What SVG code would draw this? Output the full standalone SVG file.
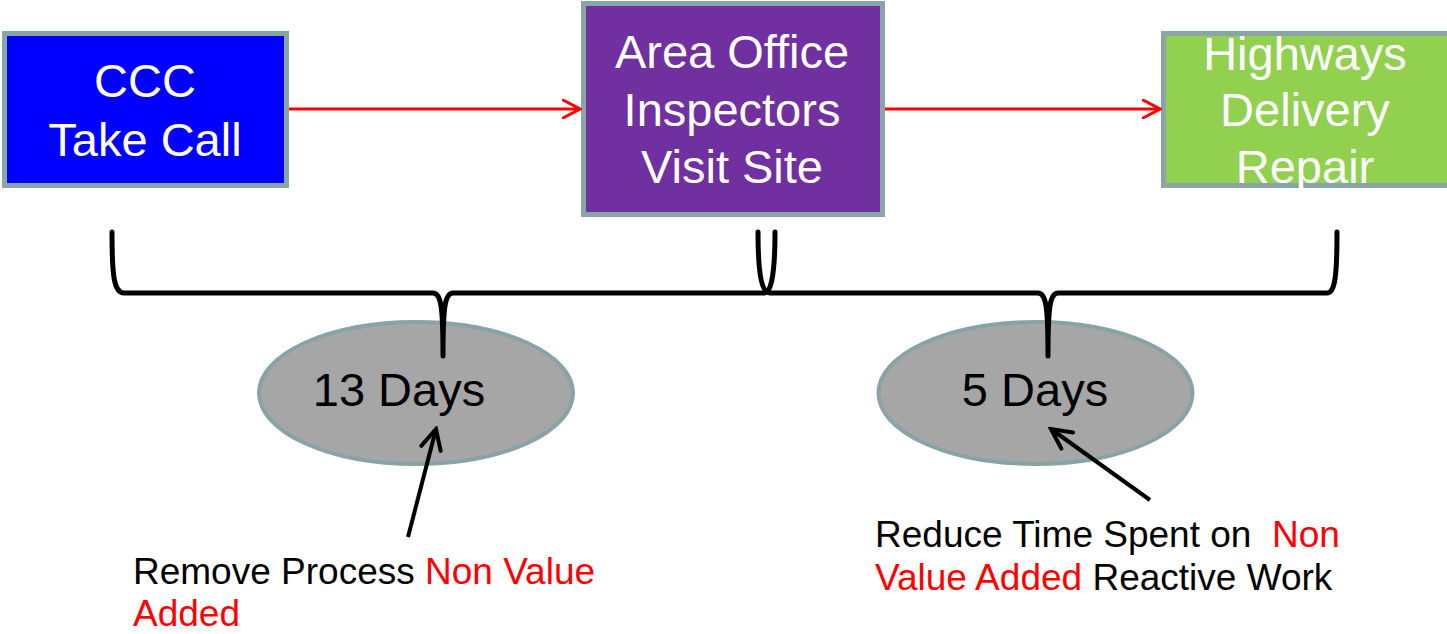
<svg xmlns="http://www.w3.org/2000/svg" width="1447" height="634" viewBox="0 0 1447 634">
<style>
.box{stroke:#8aa5a6;stroke-width:5}
.bt{font-family:"Liberation Sans",Arial,sans-serif;font-size:47px;fill:#fff;text-anchor:middle}
.ell{fill:#a6a6a6;stroke:#87a3a5;stroke-width:4}
.et{font-family:"Liberation Sans",Arial,sans-serif;font-size:47px;fill:#000;text-anchor:middle}
.note{font-family:"Liberation Sans",Arial,sans-serif;font-size:37px;fill:#000;white-space:pre}
.red{fill:#ff0000}
.brace{fill:none;stroke:#000;stroke-width:5;stroke-linecap:round;stroke-linejoin:round}
.rl{stroke:#ff0000;stroke-width:3;fill:none}
.bl{stroke:#000;stroke-width:4;fill:none}
</style>
<defs>
<marker id="rh" viewBox="0 0 20 20" refX="18" refY="10" markerWidth="20" markerHeight="20" markerUnits="userSpaceOnUse" orient="auto">
<path d="M1,1 L18,10 L1,19" fill="none" stroke="#ff0000" stroke-width="3" stroke-linecap="round"/>
</marker>
<marker id="bh" viewBox="0 0 26 26" refX="23" refY="13" markerWidth="26" markerHeight="26" markerUnits="userSpaceOnUse" orient="auto">
<path d="M3,3 L23,13 L3,23" fill="none" stroke="#000" stroke-width="4" stroke-linecap="round"/>
</marker>
</defs>
<rect width="1447" height="634" fill="#fff"/>
<g id="ccc">
<rect class="box" x="4.5" y="33.5" width="282" height="152" fill="#0000ff"/>
<text class="bt" x="145" y="97">CCC</text>
<text class="bt" x="145" y="156">Take Call</text>
</g>
<g id="area">
<rect class="box" x="583.5" y="3.5" width="299" height="211" fill="#7030a0"/>
<text class="bt" x="732" y="68">Area Office</text>
<text class="bt" x="732" y="126">Inspectors</text>
<text class="bt" x="732" y="183">Visit Site</text>
</g>
<g id="highways">
<rect class="box" x="1163.5" y="33.5" width="300" height="152" fill="#92d050"/>
<text class="bt" x="1305" y="70">Highways</text>
<text class="bt" x="1305" y="126">Delivery</text>
<text class="bt" x="1305" y="183">Repair</text>
</g>
<g id="days13">
<ellipse class="ell" cx="416" cy="393" rx="157" ry="71"/>
<text class="et" x="399" y="406">13 Days</text>
</g>
<g id="days5">
<ellipse class="ell" cx="1035.5" cy="393" rx="157" ry="71"/>
<text class="et" x="1035" y="406">5 Days</text>
</g>
<g id="braces">
<path class="brace" d="M112,232 C112,276 114,293 124,293 L433,293 C441,293 443,306 443,356 C443,306 445,293 453,293 L764,293 C770,293 775,280 775,232"/>
<path class="brace" d="M758,232 C758,280 763,293 770,293 L1038,293 C1046,293 1048,306 1048,356 C1048,306 1050,293 1058,293 L1327,293 C1335,293 1337,276 1337,232"/>
</g>
<g id="note1">
<text class="note" x="133" y="584">Remove Process <tspan class="red">Non Value</tspan></text>
<text class="note red" x="133" y="626">Added</text>
</g>
<g id="note2">
<text class="note" x="875" y="547">Reduce Time Spent on  <tspan class="red">Non</tspan></text>
<text class="note" x="875" y="590"><tspan class="red">Value Added</tspan> Reactive Work</text>
</g>
<g id="connectors">
<line class="rl" x1="289" y1="109" x2="580" y2="109" marker-end="url(#rh)"/>
<line class="rl" x1="885" y1="109" x2="1160" y2="109" marker-end="url(#rh)"/>
<line class="bl" x1="408" y1="537" x2="436" y2="429" marker-end="url(#bh)"/>
<line class="bl" x1="1150" y1="500" x2="1051" y2="429" marker-end="url(#bh)"/>
</g>
</svg>
